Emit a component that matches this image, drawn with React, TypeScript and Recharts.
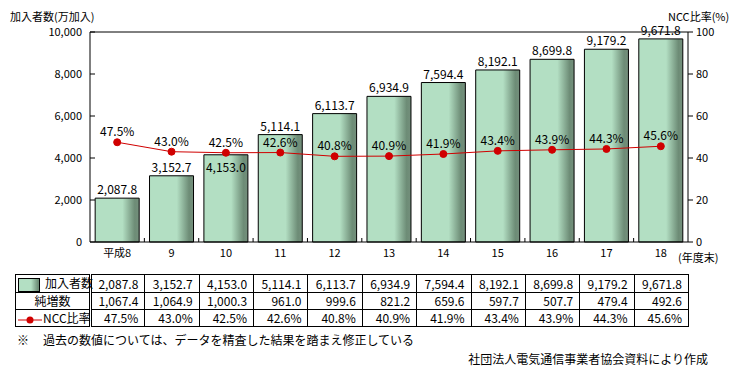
import { Bar, ComposedChart, Line, ReferenceLine, XAxis, YAxis } from 'recharts';

const years = ['平成8', '9', '10', '11', '12', '13', '14', '15', '16', '17', '18'];
const subscribers = [2087.8, 3152.7, 4153.0, 5114.1, 6113.7, 6934.9, 7594.4, 8192.1, 8699.8, 9179.2, 9671.8];
const netIncrease = [1067.4, 1064.9, 1000.3, 961.0, 999.6, 821.2, 659.6, 597.7, 507.7, 479.4, 492.6];
const nccRatio = [47.5, 43.0, 42.5, 42.6, 40.8, 40.9, 41.9, 43.4, 43.9, 44.3, 45.6];
const leftTicks = [0, 2000, 4000, 6000, 8000, 10000];
const rightTicks = [0, 20, 40, 60, 80, 100];

const data = years.map((y, i) => ({ year: y, subs: subscribers[i], ncc: nccRatio[i] }));

const FONT = "'Noto Sans CJK JP', sans-serif";
const PLOT_LEFT = 90;
const PLOT_RIGHT = 688;
const BAND = (PLOT_RIGHT - PLOT_LEFT) / years.length;

const fmt1 = (v: number) => v.toLocaleString('en-US', { minimumFractionDigits: 1, maximumFractionDigits: 1 });

function XTick({ x, y, payload, index }: any) {
  return (
    <g>
      {index > 0 && <line x1={x - BAND / 2} x2={x - BAND / 2} y1={y} y2={y - 4} stroke="#000" />}
      <text x={x} y={y + 15} textAnchor="middle" fontSize={11} fontFamily={FONT} fill="#000">
        {payload.value}
      </text>
    </g>
  );
}

function LeftTick({ x, y, payload }: any) {
  return (
    <g>
      <line x1={x} x2={x + 5} y1={y} y2={y} stroke="#000" />
      <text x={x - 8} y={y + 4} textAnchor="end" fontSize={11} fontFamily={FONT} fill="#000">
        {payload.value.toLocaleString('en-US')}
      </text>
    </g>
  );
}

function BarLabel({ x, y, width, value, index }: any) {
  const inside = index === 2;
  return (
    <text x={x + width / 2} y={inside ? y + 17 : y - 4} textAnchor="middle" fontSize={12} fontFamily={FONT} fill="#000">
      {fmt1(value)}
    </text>
  );
}

function LineLabel({ x, y, value }: any) {
  return (
    <text x={x} y={y - 6} textAnchor="middle" fontSize={12} fontFamily={FONT} fill="#000">
      {value.toFixed(1)}%
    </text>
  );
}

const cell: React.CSSProperties = {
  border: '1px solid #000',
  padding: '0 6px',
  textAlign: 'right',
  height: 16,
  whiteSpace: 'nowrap',
};
const head: React.CSSProperties = {
  ...cell,
  borderRight: '3px double #000',
  textAlign: 'left',
  padding: '0 2px',
};

export default function App() {
  return (
    <div style={{ position: 'absolute', left: 0, top: 0, width: 737, height: 379, background: '#fff', fontFamily: FONT, color: '#000' }}>
      <div style={{ position: 'absolute', left: 10, top: 11, fontSize: 11, lineHeight: 1 }}>加入者数(万加入)</div>
      <div style={{ position: 'absolute', left: 668, top: 11, fontSize: 11, lineHeight: 1 }}>NCC比率(%)</div>
      <div style={{ position: 'absolute', left: 678, top: 252, fontSize: 11, lineHeight: 1 }}>(年度末)</div>
      <ComposedChart width={737} height={265} data={data} margin={{ top: 32, right: 0, bottom: 0, left: 0 }} barCategoryGap="9.5%">
        <defs>
          <linearGradient id="barGrad" x1="0" y1="0" x2="1" y2="0">
            <stop offset="0%" stopColor="#b3dfc3" />
            <stop offset="62%" stopColor="#b3dfc3" />
            <stop offset="90%" stopColor="#6d8c76" />
            <stop offset="100%" stopColor="#748f7c" />
          </linearGradient>
        </defs>
        <XAxis dataKey="year" height={23} interval={0} tickSize={0} tickMargin={0} tickLine={false} axisLine={{ stroke: '#000' }} tick={<XTick />} />
        <YAxis yAxisId="l" width={90} domain={[0, 10000]} ticks={leftTicks} tickSize={0} tickMargin={0} tickLine={false} axisLine={{ stroke: '#000' }} tick={<LeftTick />} />
        <YAxis
          yAxisId="r"
          orientation="right"
          width={49}
          domain={[0, 100]}
          ticks={rightTicks}
          tickSize={5}
          tickMargin={3}
          tickLine={{ stroke: '#000' }}
          axisLine={{ stroke: '#000' }}
          tick={{ fontSize: 11, fontFamily: FONT, fill: '#000' }}
        />
        <ReferenceLine yAxisId="l" y={10000} stroke="#000" />
        <Bar yAxisId="l" dataKey="subs" fill="url(#barGrad)" stroke="#000" strokeWidth={1} isAnimationActive={false} label={<BarLabel />} />
        <Line
          yAxisId="r"
          dataKey="ncc"
          stroke="#d00000"
          strokeWidth={1}
          dot={{ r: 3.5, fill: '#d00000', stroke: '#d00000' }}
          activeDot={false}
          isAnimationActive={false}
          label={<LineLabel />}
        />
      </ComposedChart>
      <table
        style={{
          position: 'absolute',
          left: 15,
          top: 274,
          width: PLOT_RIGHT + 1 - 15,
          borderCollapse: 'collapse',
          tableLayout: 'fixed',
          fontSize: 12,
          lineHeight: '15px',
        }}
      >
        <colgroup>
          <col style={{ width: PLOT_LEFT - 15 }} />
          {years.map((y) => (
            <col key={y} style={{ width: BAND }} />
          ))}
        </colgroup>
        <tbody>
          <tr>
            <td style={head}>
              <span
                style={{
                  display: 'inline-block',
                  width: 20,
                  height: 12,
                  verticalAlign: 'middle',
                  border: '1px solid #000',
                  background: 'linear-gradient(to right, #b3dfc3 60%, #6d8c76 95%)',
                  marginRight: 5,
                }}
              />
              加入者数
            </td>
            {subscribers.map((v, i) => (
              <td key={i} style={cell}>
                {fmt1(v)}
              </td>
            ))}
          </tr>
          <tr>
            <td style={{ ...head, textAlign: 'center' }}>純増数</td>
            {netIncrease.map((v, i) => (
              <td key={i} style={cell}>
                {fmt1(v)}
              </td>
            ))}
          </tr>
          <tr>
            <td style={head}>
              <svg width={24} height={10} style={{ verticalAlign: 'middle', marginRight: 1 }}>
                <line x1={0} x2={24} y1={5} y2={5} stroke="#d00000" />
                <circle cx={12} cy={5} r={3.5} fill="#d00000" />
              </svg>
              NCC比率
            </td>
            {nccRatio.map((v, i) => (
              <td key={i} style={cell}>
                {v.toFixed(1)}%
              </td>
            ))}
          </tr>
        </tbody>
      </table>
      <div style={{ position: 'absolute', left: 17, top: 331, fontSize: 12 }}>
        ※<span style={{ marginLeft: 14 }}>過去の数値については、データを精査した結果を踏まえ修正している</span>
      </div>
      <div style={{ position: 'absolute', right: 29, top: 350, fontSize: 12 }}>社団法人電気通信事業者協会資料により作成</div>
    </div>
  );
}
